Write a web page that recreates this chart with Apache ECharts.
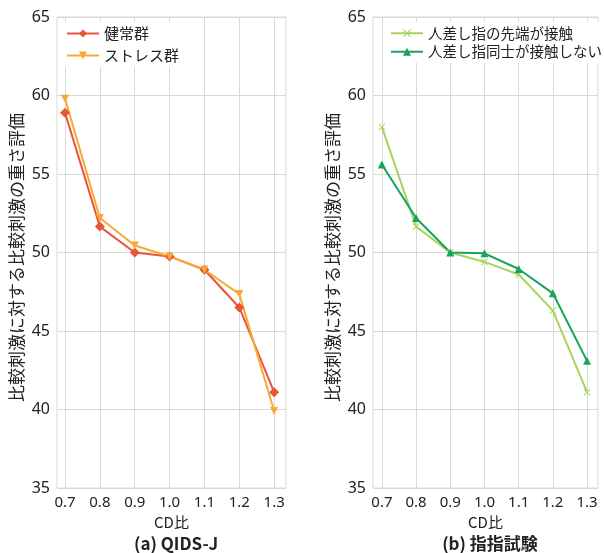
<!DOCTYPE html>
<html><head><meta charset="utf-8">
<script src="https://cdn.jsdelivr.net/npm/echarts@6/dist/echarts.min.js"></script>
<style>html,body{margin:0;padding:0;background:#fff}#c{width:604px;height:553px}</style>
</head><body><div id="c"></div>
<script>
const cdRatio = [0.7, 0.8, 0.9, 1.0, 1.1, 1.2, 1.3];
const xTicks = [0.7, 0.8, 0.9, 1.0, 1.1, 1.2, 1.3];
const healthy = [58.9, 51.65, 50.0, 49.75, 48.9, 46.5, 41.1];
const stress = [59.8, 52.2, 50.45, 49.75, 48.9, 47.35, 39.9];
const tipTouch = [58.0, 51.65, 50.0, 49.4, 48.6, 46.3, 41.1];
const noTouch = [55.6, 52.2, 50.0, 49.95, 48.95, 47.4, 43.1];
const yTitle = '比較刺激に対する比較刺激の重さ評価';

const FONT = "'Noto Sans','Noto Sans CJK JP',sans-serif";
const JFONT = "'Noto Sans CJK JP','Noto Sans',sans-serif";
const pairs = a => cdRatio.map((x, i) => [x, a[i]]);
const xMark = 'path://M1,0L5,4L9,0L10,1L6,5L10,9L9,10L5,6L1,10L0,9L4,5L0,1Z';

function xAxis(idx, min, max) {
  return {
    type: 'value', gridIndex: idx, min: min, max: max,
    name: 'CD比', nameLocation: 'middle', nameGap: 27,
    nameTextStyle: {fontFamily: JFONT, fontSize: 15, color: '#222'},
    axisLine: {show: false}, axisTick: {show: false, customValues: xTicks},
    axisLabel: {customValues: xTicks, formatter: v => v.toFixed(1), fontFamily: FONT, fontSize: 15, color: '#222', margin: 7},
    splitLine: {show: true, lineStyle: {color: '#d9d9d9', width: 1}}
  };
}
function yAxis(idx) {
  return {
    type: 'value', gridIndex: idx, min: 35, max: 65, interval: 5,
    name: yTitle, nameLocation: 'middle', nameGap: 32, nameRotate: 90,
    nameTextStyle: {fontFamily: JFONT, fontSize: 17, color: '#222', padding: [0, 10, 0, 0]},
    axisLine: {show: false}, axisTick: {show: false},
    axisLabel: {fontFamily: FONT, fontSize: 16, color: '#222', margin: 7},
    splitLine: {show: true, lineStyle: {color: '#d9d9d9', width: 1}}
  };
}
function line(name, data, color, symbol, size, xi, rot) {
  return {
    type: 'line', name: name, data: pairs(data), xAxisIndex: xi, yAxisIndex: xi,
    symbol: symbol, symbolSize: size, symbolRotate: rot || 0, showSymbol: true,
    lineStyle: {color: color, width: 2}, itemStyle: {color: color}, z: 3
  };
}
const chart = echarts.init(document.getElementById('c'), null, {renderer: 'canvas'});
chart.setOption({
  animation: false,
  backgroundColor: '#fff',
  grid: [
    {left: 57, right: 318, top: 17, bottom: 65, show: true, borderColor: '#d9d9d9', borderWidth: 1, containLabel: false},
    {left: 373, right: 6, top: 17, bottom: 65, show: true, borderColor: '#d9d9d9', borderWidth: 1, containLabel: false}
  ],
  title: [
    {text: '(a) QIDS-J', left: 171, top: 530, textAlign: 'center', textStyle: {fontFamily: JFONT, fontSize: 17, fontWeight: 600, color: '#222'}},
    {text: '(b) 指指試験', left: 485, top: 530, textAlign: 'center', textStyle: {fontFamily: JFONT, fontSize: 17, fontWeight: 600, color: '#222'}}
  ],
  legend: [
    {data: ['健常群', 'ストレス群'], orient: 'vertical', left: 62, top: 22, itemWidth: 32, itemHeight: 10, itemGap: 7,
     backgroundColor: '#fff', padding: [4, 8, 4, 4], textStyle: {fontFamily: JFONT, fontSize: 15, color: '#222'}},
    {data: ['人差し指の先端が接触', '人差し指同士が接触しない'], orient: 'vertical', left: 386, top: 22, itemWidth: 32, itemHeight: 10, itemGap: 4,
     backgroundColor: '#fff', padding: [4, 4, 4, 4], textStyle: {fontFamily: JFONT, fontSize: 14.5, color: '#222'}}
  ],
  xAxis: [xAxis(0, 0.677, 1.334), xAxis(1, 0.674, 1.332)],
  yAxis: [yAxis(0), yAxis(1)],
  series: [
    line('健常群', healthy, '#e8553a', 'diamond', 10, 0),
    line('ストレス群', stress, '#f7a935', 'triangle', 8, 0, 180),
    line('人差し指の先端が接触', tipTouch, '#a9d35c', xMark, 7, 1),
    line('人差し指同士が接触しない', noTouch, '#17a45c', 'triangle', 8, 1)
  ]
});
</script></body></html>
